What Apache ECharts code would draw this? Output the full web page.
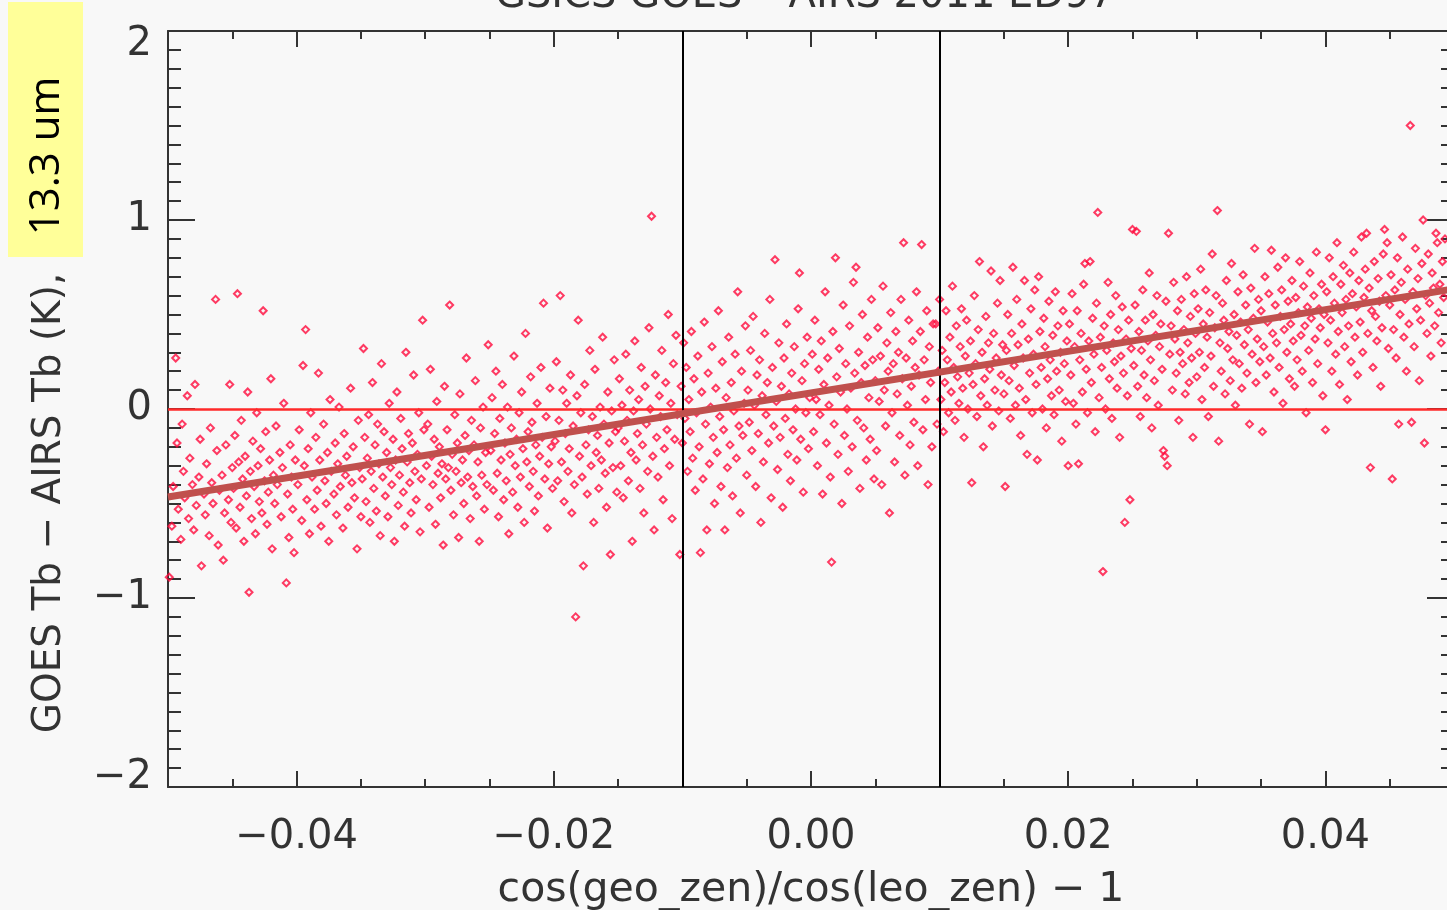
<!DOCTYPE html>
<html>
<head>
<meta charset="utf-8">
<script src="https://cdn.jsdelivr.net/npm/echarts@6/dist/echarts.min.js"></script>
<style>
html, body { margin: 0; padding: 0; background: #f8f8f8; }
#main { width: 1447px; height: 910px; }
</style>
</head>
<body>
<div id="main"></div>
<script>
// tick values
var xMajorTicks = [-0.04, -0.02, 0, 0.02, 0.04];

// scatter points, [cos ratio - 1, Tb diff]
var leftPts = [
[-0.0499,-0.89],[-0.0497,-0.62],[-0.0496,-0.41],[-0.0494,0.27],[-0.0493,-0.18],[-0.0492,-0.53],[-0.0490,-0.69],[-0.0489,-0.08],[-0.0488,-0.33],[-0.0487,-0.47],[-0.0485,0.07],[-0.0484,-0.58],[-0.0483,-0.26],[-0.0481,-0.40],[-0.0480,-0.64],[-0.0479,0.13],[-0.0478,-0.51],[-0.0476,-0.36],[-0.0475,-0.16],[-0.0474,-0.83],[-0.0472,-0.45],[-0.0471,-0.56],[-0.0470,-0.29],[-0.0468,-0.67],[-0.0467,-0.10],[-0.0466,-0.39],[-0.0465,-0.50],[-0.0463,0.58],[-0.0462,-0.22],[-0.0461,-0.72],[-0.0460,-0.43],[-0.0458,-0.35],[-0.0457,-0.80],[-0.0456,-0.55],[-0.0455,-0.19],[-0.0453,-0.48],[-0.0452,0.13],[-0.0451,-0.60],[-0.0450,-0.31],
[-0.0449,-0.42],[-0.0448,-0.14],[-0.0447,-0.63],[-0.0446,0.61],[-0.0445,-0.28],[-0.0444,-0.52],[-0.0443,-0.06],[-0.0442,-0.37],[-0.0441,-0.70],[-0.0440,-0.25],[-0.0439,-0.46],[-0.0438,0.09],[-0.0437,-0.97],[-0.0436,-0.33],[-0.0435,-0.58],[-0.0434,-0.17],[-0.0433,-0.41],[-0.0432,-0.66],[-0.0431,-0.02],[-0.0430,-0.30],[-0.0429,-0.49],[-0.0428,-0.21],[-0.0427,-0.55],[-0.0426,0.52],[-0.0425,-0.38],[-0.0424,-0.12],[-0.0423,-0.61],[-0.0422,-0.44],[-0.0421,-0.27],[-0.0420,0.16],[-0.0419,-0.74],[-0.0418,-0.35],[-0.0417,-0.50],[-0.0416,-0.09],[-0.0415,-0.40],[-0.0413,-0.23],[-0.0412,-0.57],[-0.0411,-0.31],[-0.0410,0.03],[-0.0408,-0.92],[-0.0407,-0.45],[-0.0406,-0.68],[-0.0405,-0.19],[-0.0404,-0.36],[-0.0403,-0.53],[-0.0402,-0.76],[-0.0401,-0.27],
[-0.0399,-0.40],[-0.0398,-0.11],[-0.0396,-0.59],[-0.0395,0.23],[-0.0394,-0.30],[-0.0393,0.42],[-0.0392,-0.48],[-0.0391,-0.21],[-0.0390,-0.66],[-0.0389,-0.02],[-0.0388,-0.36],[-0.0386,-0.53],[-0.0385,-0.15],[-0.0384,-0.43],[-0.0383,0.19],[-0.0382,-0.27],[-0.0381,-0.62],[-0.0379,-0.08],[-0.0378,-0.38],[-0.0377,-0.50],[-0.0376,-0.23],[-0.0375,-0.70],[-0.0374,0.05],[-0.0373,-0.33],[-0.0371,-0.45],[-0.0370,-0.18],[-0.0369,-0.56],[-0.0368,-0.29],[-0.0367,0.01],[-0.0366,-0.41],[-0.0364,-0.63],[-0.0363,-0.13],[-0.0362,-0.35],[-0.0361,-0.25],[-0.0360,-0.52],[-0.0358,0.11],[-0.0357,-0.39],[-0.0356,-0.20],[-0.0355,-0.47],[-0.0353,-0.74],[-0.0352,-0.06],[-0.0351,-0.31],[-0.0350,-0.57],
[-0.0349,-0.37],[-0.0348,0.32],[-0.0347,-0.15],[-0.0346,-0.49],[-0.0345,-0.26],[-0.0344,-0.03],[-0.0343,-0.60],[-0.0342,-0.33],[-0.0341,0.14],[-0.0340,-0.42],[-0.0339,-0.19],[-0.0338,-0.54],[-0.0337,-0.08],[-0.0336,-0.29],[-0.0335,-0.67],[-0.0334,0.24],[-0.0333,-0.36],[-0.0332,-0.12],[-0.0331,-0.46],[-0.0330,-0.23],[-0.0329,-0.57],[-0.0328,0.03],[-0.0327,-0.31],[-0.0326,-0.40],[-0.0325,-0.16],[-0.0324,-0.70],[-0.0323,-0.27],[-0.0322,0.09],[-0.0321,-0.51],[-0.0320,-0.35],[-0.0319,-0.05],[-0.0318,-0.21],[-0.0317,-0.44],[-0.0316,-0.62],[-0.0315,0.30],[-0.0314,-0.28],[-0.0313,-0.13],[-0.0312,-0.39],[-0.0311,-0.55],[-0.0310,-0.18],[-0.0309,0.18],[-0.0308,-0.33],[-0.0307,-0.48],[-0.0306,-0.24],[-0.0305,-0.02],[-0.0304,-0.65],[-0.0303,-0.37],[-0.0302,0.47],[-0.0301,-0.11],
[-0.0299,-0.30],[-0.0298,-0.08],[-0.0297,-0.52],[-0.0296,0.21],[-0.0295,-0.25],[-0.0294,-0.40],[-0.0293,-0.16],[-0.0292,-0.61],[-0.0291,0.04],[-0.0290,-0.34],[-0.0289,-0.20],[-0.0288,-0.47],[-0.0287,-0.29],[-0.0286,-0.72],[-0.0285,0.12],[-0.0284,-0.37],[-0.0283,-0.11],[-0.0282,-0.31],[-0.0281,0.55],[-0.0280,-0.43],[-0.0279,-0.24],[-0.0278,-0.56],[-0.0277,-0.03],[-0.0276,-0.33],[-0.0275,-0.18],[-0.0274,-0.68],[-0.0273,0.08],[-0.0272,-0.39],[-0.0271,-0.27],[-0.0270,-0.50],[-0.0269,-0.14],[-0.0268,0.27],[-0.0267,-0.36],[-0.0266,-0.22],[-0.0265,-0.58],[-0.0264,-0.06],[-0.0263,-0.41],[-0.0262,-0.19],[-0.0261,0.15],[-0.0260,-0.46],[-0.0259,-0.28],[-0.0258,-0.70],[-0.0257,-0.10],[-0.0256,-0.35],[-0.0255,0.01],[-0.0254,-0.53],[-0.0253,-0.23],[-0.0252,-0.40],[-0.0251,0.34],
[-0.0249,-0.22],[-0.0248,0.06],[-0.0247,-0.43],[-0.0246,-0.13],[-0.0245,0.20],[-0.0244,-0.34],[-0.0243,-0.57],[-0.0242,-0.05],[-0.0241,-0.27],[-0.0240,0.13],[-0.0239,-0.48],[-0.0238,-0.18],[-0.0237,-0.38],[-0.0236,0.01],[-0.0235,-0.66],[-0.0234,-0.24],[-0.0233,-0.10],[-0.0232,-0.44],[-0.0231,0.28],[-0.0230,-0.30],[-0.0229,-0.16],[-0.0228,-0.52],[-0.0227,-0.02],[-0.0226,-0.36],[-0.0225,0.09],[-0.0224,-0.21],[-0.0223,-0.60],[-0.0222,0.40],[-0.0221,-0.28],[-0.0220,-0.12],[-0.0219,-0.41],[-0.0218,0.17],[-0.0217,-0.07],[-0.0216,-0.33],[-0.0215,-0.54],[-0.0214,-0.19],[-0.0213,0.03],[-0.0212,-0.46],[-0.0211,-0.25],[-0.0210,0.22],[-0.0209,-0.15],[-0.0208,0.56],[-0.0207,-0.37],[-0.0206,-0.04],[-0.0205,-0.63],[-0.0204,-0.29],[-0.0203,0.11],[-0.0202,-0.20],[-0.0201,-0.42],
[-0.0199,-0.17],[-0.0198,0.25],[-0.0197,-0.38],[-0.0196,-0.06],[-0.0195,0.60],[-0.0194,-0.28],[-0.0193,0.10],[-0.0192,-0.49],[-0.0191,-0.13],[-0.0190,0.03],[-0.0189,-0.33],[-0.0188,-0.21],[-0.0187,0.18],[-0.0186,-0.55],[-0.0185,-0.09],[-0.0184,-0.40],[-0.0183,-1.10],[-0.0182,0.07],[-0.0181,0.47],[-0.0180,-0.25],[-0.0179,-0.02],[-0.0178,-0.36],[-0.0177,-0.83],[-0.0176,0.13],[-0.0175,-0.19],[-0.0174,-0.45],[-0.0173,-0.11],[-0.0172,0.31],[-0.0171,-0.30],[-0.0170,-0.04],[-0.0169,-0.60],[-0.0168,0.21],[-0.0167,-0.23],[-0.0166,-0.14],[-0.0165,-0.42],[-0.0164,0.01],[-0.0163,-0.27],[-0.0162,0.38],[-0.0161,-0.08],[-0.0160,-0.34],[-0.0159,-0.52],[-0.0158,0.09],[-0.0157,-0.18],[-0.0156,-0.77],[-0.0155,-0.01],[-0.0154,-0.31],[-0.0153,0.26],[-0.0152,-0.12],[-0.0151,-0.44],
[-0.0150,-0.10],[-0.0149,0.16],[-0.0148,-0.30],[-0.0147,0.02],[-0.0146,-0.47],[-0.0145,-0.17],[-0.0144,0.29],[-0.0143,-0.06],[-0.0142,-0.38],[-0.0141,0.10],[-0.0140,-0.23],[-0.0139,-0.70],[-0.0138,-0.01],[-0.0137,0.36],[-0.0136,-0.27],[-0.0135,-0.13],[-0.0134,0.05],[-0.0133,-0.42],[-0.0132,0.22],[-0.0131,-0.19],[-0.0130,-0.55],[-0.0129,0.12],[-0.0128,-0.08],[-0.0127,-0.33],[-0.0126,0.43],[-0.0125,0.00],[-0.0124,1.02],[-0.0123,-0.25],[-0.0122,-0.64],[-0.0121,0.18],[-0.0120,-0.15],[-0.0119,-0.36],[-0.0118,0.07],[-0.0117,-0.04],[-0.0116,0.31],[-0.0115,-0.48],[-0.0114,-0.21],[-0.0113,0.14],[-0.0112,-0.11],[-0.0111,0.50],[-0.0110,-0.30],[-0.0109,0.03],[-0.0108,-0.58],[-0.0107,0.24],[-0.0106,-0.16],[-0.0105,0.39],[-0.0104,-0.03]
];

var midPts = [
[-0.0102,-0.77],[-0.0101,0.12],[-0.0100,-0.18],[-0.0099,0.35],[-0.0098,-0.05],[-0.0097,0.22],[-0.0096,-0.33],[-0.0095,0.05],[-0.0094,-0.12],[-0.0093,0.41],[-0.0092,-0.26],[-0.0091,0.16],[-0.0090,-0.43],[-0.0089,-0.02],[-0.0088,0.28],[-0.0087,-0.20],[-0.0086,-0.76],[-0.0085,0.09],[-0.0084,-0.37],[-0.0083,0.46],[-0.0082,-0.08],[-0.0081,-0.64],[-0.0080,0.19],[-0.0079,-0.29],[-0.0078,0.01],[-0.0077,0.33],[-0.0076,-0.15],[-0.0075,-0.50],[-0.0074,0.11],[-0.0073,-0.23],[-0.0072,0.52],[-0.0071,-0.04],[-0.0070,-0.41],[-0.0069,0.25],[-0.0068,-0.11],[-0.0067,-0.64],[-0.0066,0.06],[-0.0065,-0.31],[-0.0064,0.38],[-0.0063,-0.19],[-0.0062,0.14],[-0.0061,-0.46],[-0.0060,-0.01],[-0.0059,0.29],[-0.0058,-0.26],[-0.0057,0.62],[-0.0056,-0.09],[-0.0055,-0.55],[-0.0054,0.20],[-0.0053,-0.14],[-0.0052,0.03],[-0.0051,0.44],
[-0.0050,-0.35],[-0.0049,0.10],[-0.0048,-0.07],[-0.0047,0.31],[-0.0046,-0.22],[-0.0045,0.49],[-0.0044,0.02],[-0.0043,-0.41],[-0.0042,0.18],[-0.0041,-0.13],[-0.0040,0.26],[-0.0039,-0.60],[-0.0038,0.07],[-0.0037,-0.28],[-0.0036,0.40],[-0.0035,-0.03],[-0.0034,0.14],[-0.0033,-0.18],[-0.0032,0.58],[-0.0031,-0.47],[-0.0030,0.22],[-0.0029,-0.09],[-0.0028,0.79],[-0.0027,0.04],[-0.0026,-0.32],[-0.0025,0.35],[-0.0024,-0.15],[-0.0023,0.12],[-0.0022,-0.52],[-0.0021,0.27],[-0.0020,-0.05],[-0.0019,0.45],[-0.0018,-0.24],[-0.0017,0.08],[-0.0016,-0.38],[-0.0015,0.19],[-0.0014,-0.11],[-0.0013,0.33],[-0.0012,0.00],[-0.0011,-0.27],[-0.0010,0.53],[-0.0009,0.72],[-0.0008,-0.16],[-0.0007,0.15],[-0.0006,-0.44],[-0.0005,0.24],[-0.0004,-0.02],[-0.0003,0.38],[-0.0002,-0.21],[-0.0001,0.06],
[0.0001,0.29],[0.0002,-0.12],[0.0003,0.47],[0.0004,0.05],[0.0005,-0.30],[0.0006,0.21],[0.0007,-0.03],[0.0008,0.36],[0.0009,-0.45],[0.0010,0.13],[0.0011,0.62],[0.0012,-0.18],[0.0013,0.27],[0.0014,0.02],[0.0015,-0.36],[0.0016,-0.81],[0.0017,0.41],[0.0018,-0.08],[0.0019,0.80],[0.0020,0.17],[0.0021,-0.24],[0.0022,0.32],[0.0023,0.09],[0.0024,-0.50],[0.0025,0.55],[0.0026,-0.14],[0.0027,0.24],[0.0028,0.00],[0.0029,-0.33],[0.0030,0.44],[0.0031,0.11],[0.0032,-0.20],[0.0033,0.67],[0.0034,0.19],[0.0035,0.75],[0.0036,-0.06],[0.0037,0.30],[0.0038,-0.42],[0.0039,0.14],[0.0040,0.50],[0.0041,-0.10],[0.0042,0.23],[0.0043,-0.27],[0.0044,0.38],[0.0045,0.06],[0.0046,-0.16],[0.0047,0.58],[0.0048,0.26],[0.0049,-0.37],
[0.0050,0.15],[0.0051,-0.22],[0.0052,0.43],[0.0053,0.04],[0.0054,0.28],[0.0055,-0.40],[0.0056,0.65],[0.0057,0.10],[0.0058,-0.09],[0.0059,0.35],[0.0060,0.20],[0.0061,-0.55],[0.0062,0.51],[0.0063,-0.02],[0.0064,0.24],[0.0065,-0.28],[0.0066,0.41],[0.0067,0.08],[0.0068,0.30],[0.0069,-0.14],[0.0070,0.58],[0.0071,0.16],[0.0072,0.88],[0.0073,-0.35],[0.0074,0.27],[0.0075,0.02],[0.0076,0.47],[0.0077,-0.19],[0.0078,0.12],[0.0079,0.36],[0.0080,-0.07],[0.0081,0.22],[0.0082,0.62],[0.0083,-0.30],[0.0084,0.18],[0.0085,0.41],[0.0086,0.87],[0.0087,-0.11],[0.0088,0.26],[0.0089,0.05],[0.0090,0.52],[0.0091,-0.40],[0.0092,0.33],[0.0093,0.14],[0.0094,-0.20],[0.0095,0.45]
];

var rightPts = [
[0.0097,0.45],[0.0098,-0.08],[0.0099,0.20],[0.0100,0.58],[0.0101,0.05],[0.0102,0.31],[0.0103,-0.12],[0.0104,0.14],[0.0105,0.52],[0.0106,0.26],[0.0107,-0.02],[0.0108,0.38],[0.0109,0.09],[0.0110,0.65],[0.0111,0.22],[0.0112,-0.06],[0.0113,0.44],[0.0114,0.17],[0.0115,0.03],[0.0116,0.33],[0.0117,0.53],[0.0118,0.11],[0.0119,-0.15],[0.0120,0.28],[0.0121,0.47],[0.0122,0.00],[0.0123,0.19],[0.0124,0.36],[0.0125,-0.39],[0.0126,0.13],[0.0127,0.60],[0.0128,0.24],[0.0129,-0.04],[0.0130,0.42],[0.0131,0.78],[0.0132,0.07],[0.0133,0.30],[0.0134,-0.20],[0.0135,0.16],[0.0136,0.49],[0.0137,0.02],[0.0138,0.35],[0.0139,0.21],[0.0140,0.73],[0.0141,-0.09],[0.0142,0.40],[0.0143,0.10],[0.0144,0.27],[0.0145,0.56],[0.0146,-0.01],[0.0147,0.68],[0.0148,0.18],[0.0149,0.34],
[0.0150,0.08],[0.0151,-0.41],[0.0152,0.31],[0.0153,0.50],[0.0154,0.15],[0.0155,-0.05],[0.0156,0.40],[0.0157,0.75],[0.0158,0.23],[0.0159,0.02],[0.0160,0.58],[0.0161,0.34],[0.0162,0.11],[0.0163,-0.14],[0.0164,0.45],[0.0165,0.27],[0.0166,0.68],[0.0167,0.05],[0.0168,-0.24],[0.0169,0.37],[0.0170,0.19],[0.0171,0.53],[0.0172,-0.02],[0.0173,0.29],[0.0174,0.63],[0.0175,0.13],[0.0176,-0.27],[0.0177,0.70],[0.0178,0.41],[0.0179,0.22],[0.0180,0.00],[0.0181,0.48],[0.0182,0.33],[0.0183,-0.10],[0.0184,0.16],[0.0185,0.57],[0.0186,0.26],[0.0187,0.07],[0.0188,0.39],[0.0189,-0.03],[0.0190,0.62],[0.0191,0.20],[0.0192,0.44],[0.0193,0.10],[0.0194,0.30],[0.0195,-0.17],[0.0196,0.52],[0.0197,0.24],[0.0198,0.04],[0.0199,0.36],
[0.0200,-0.30],[0.0201,0.45],[0.0202,0.18],[0.0203,0.61],[0.0204,0.03],[0.0205,0.33],[0.0206,-0.08],[0.0207,0.52],[0.0208,-0.29],[0.0209,0.26],[0.0210,0.40],[0.0211,0.09],[0.0212,0.66],[0.0213,0.77],[0.0214,0.21],[0.0215,-0.02],[0.0216,0.36],[0.0217,0.78],[0.0218,0.14],[0.0219,0.48],[0.0220,0.29],[0.0221,-0.12],[0.0222,0.56],[0.0223,1.04],[0.0224,0.06],[0.0225,0.38],[0.0226,0.22],[0.0227,-0.86],[0.0228,0.44],[0.0229,0.00],[0.0230,0.31],[0.0231,0.67],[0.0232,0.16],[0.0233,0.50],[0.0234,-0.05],[0.0235,0.35],[0.0236,0.25],[0.0237,0.60],[0.0238,0.11],[0.0239,0.42],[0.0240,-0.15],[0.0241,0.28],[0.0242,0.54],[0.0243,0.19],[0.0244,-0.60],[0.0245,0.37],[0.0246,0.07],[0.0247,0.47],[0.0248,-0.48],[0.0249,0.32],
[0.0250,0.95],[0.0251,0.23],[0.0252,0.55],[0.0253,0.94],[0.0254,0.12],[0.0255,0.41],[0.0256,-0.04],[0.0257,0.31],[0.0258,0.63],[0.0259,0.18],[0.0260,0.47],[0.0261,0.06],[0.0262,0.36],[0.0263,0.72],[0.0264,0.26],[0.0265,-0.10],[0.0266,0.50],[0.0267,0.15],[0.0268,0.39],[0.0269,0.60],[0.0270,0.02],[0.0271,0.33],[0.0272,0.45],[0.0273,0.21],[0.0274,-0.22],[0.0275,-0.25],[0.0276,0.57],[0.0277,-0.30],[0.0278,0.93],[0.0279,0.29],[0.0280,0.44],[0.0281,0.10],[0.0282,0.67],[0.0283,0.37],[0.0284,0.19],[0.0285,0.52],[0.0286,-0.06],[0.0287,0.30],[0.0288,0.58],[0.0289,0.24],[0.0290,0.42],[0.0291,0.08],[0.0292,0.70],[0.0293,0.35],[0.0294,0.14],[0.0295,0.49],[0.0296,0.27],[0.0297,-0.15],[0.0298,0.61],[0.0299,0.40],
[0.0300,0.17],[0.0301,0.53],[0.0302,0.30],[0.0303,0.74],[0.0304,0.05],[0.0305,0.45],[0.0306,0.22],[0.0307,0.63],[0.0308,0.38],[0.0309,-0.04],[0.0310,0.51],[0.0311,0.28],[0.0312,0.82],[0.0313,0.12],[0.0314,0.43],[0.0315,0.60],[0.0316,1.05],[0.0317,-0.17],[0.0318,0.35],[0.0319,0.20],[0.0320,0.56],[0.0321,0.47],[0.0322,0.08],[0.0323,0.68],[0.0324,0.32],[0.0325,0.41],[0.0326,0.15],[0.0327,0.77],[0.0328,0.26],[0.0329,0.50],[0.0330,0.02],[0.0331,0.39],[0.0332,0.62],[0.0333,0.24],[0.0334,0.46],[0.0335,0.11],[0.0336,0.71],[0.0337,0.34],[0.0338,0.55],[0.0339,0.19],[0.0340,0.42],[0.0341,-0.08],[0.0342,0.64],[0.0343,0.29],[0.0344,0.48],[0.0345,0.85],[0.0346,0.14],[0.0347,0.37],[0.0348,0.58],[0.0349,0.25],
[0.0350,0.52],[0.0351,-0.12],[0.0352,0.33],[0.0353,0.70],[0.0354,0.18],[0.0355,0.46],[0.0356,0.61],[0.0357,0.27],[0.0358,0.84],[0.0359,0.40],[0.0360,0.09],[0.0361,0.55],[0.0362,0.35],[0.0363,0.75],[0.0364,0.22],[0.0365,0.49],[0.0366,0.63],[0.0367,0.03],[0.0368,0.42],[0.0369,0.80],[0.0370,0.30],[0.0371,0.57],[0.0372,0.16],[0.0373,0.45],[0.0374,0.68],[0.0375,0.36],[0.0376,0.12],[0.0377,0.59],[0.0378,0.26],[0.0379,0.51],[0.0380,0.78],[0.0381,0.39],[0.0382,0.20],[0.0383,0.65],[0.0384,0.44],[0.0385,-0.02],[0.0386,0.54],[0.0387,0.31],[0.0388,0.72],[0.0389,0.48],[0.0390,0.14],[0.0391,0.60],[0.0392,0.37],[0.0393,0.83],[0.0394,0.24],[0.0395,0.53],[0.0396,0.43],[0.0397,0.66],[0.0398,0.07],[0.0399,0.50],
[0.0400,-0.11],[0.0401,0.62],[0.0402,0.35],[0.0403,0.80],[0.0404,0.47],[0.0405,0.20],[0.0406,0.70],[0.0407,0.56],[0.0408,0.29],[0.0409,0.88],[0.0410,0.41],[0.0411,0.13],[0.0412,0.66],[0.0413,0.51],[0.0414,0.76],[0.0415,0.33],[0.0416,0.58],[0.0417,0.05],[0.0418,0.44],[0.0419,0.72],[0.0420,0.25],[0.0421,0.61],[0.0422,0.83],[0.0423,0.38],[0.0424,0.54],[0.0425,0.18],[0.0426,0.68],[0.0427,0.46],[0.0428,0.91],[0.0429,0.30],[0.0430,0.59],[0.0431,0.74],[0.0432,0.93],[0.0433,0.40],[0.0434,0.64],[0.0435,-0.31],[0.0436,0.52],[0.0437,0.22],[0.0438,0.78],[0.0439,0.49],[0.0440,0.36],[0.0441,0.69],[0.0442,0.57],[0.0443,0.12],[0.0444,0.43],[0.0445,0.82],[0.0446,0.95],[0.0447,0.60],[0.0448,0.88],[0.0449,0.32],
[0.0450,0.55],[0.0451,0.71],[0.0452,-0.37],[0.0453,0.42],[0.0454,0.63],[0.0455,0.27],[0.0456,0.80],[0.0457,-0.08],[0.0458,0.50],[0.0459,0.67],[0.0460,0.91],[0.0461,0.38],[0.0462,0.58],[0.0463,0.20],[0.0464,0.74],[0.0465,0.45],[0.0466,1.50],[0.0467,-0.07],[0.0468,0.62],[0.0469,0.33],[0.0470,0.85],[0.0471,0.53],[0.0472,0.69],[0.0473,0.15],[0.0474,0.47],[0.0475,0.77],[0.0476,1.00],[0.0477,-0.18],[0.0478,0.60],[0.0479,0.40],[0.0480,0.82],[0.0481,0.56],[0.0482,0.28],[0.0483,0.72],[0.0484,0.64],[0.0485,0.44],[0.0486,0.93],[0.0487,0.88],[0.0488,0.51],[0.0489,0.66],[0.0490,0.35],[0.0491,0.78],[0.0492,0.59],[0.0493,0.90]
];

// linear fit end points and the two view-angle limits
var fitX = [-0.05, 0.05];
var fitY = [-0.466, 0.636];
var limitX = [-0.0103, 0.0096];

var AXIS_COLOR = '#333';
var LABEL_FONT = 'DejaVu Sans';

function minusSign(s) {
    return String(s).replace('-', '\u2212');
}

var myChart = echarts.init(document.getElementById('main'));

// plot box: the right frame sits just past the canvas edge, as in the source picture
var gridBox = { left: 168, right: -7, top: 31, bottom: 123, outerBoundsMode: 'none' };

function makeX(idx, pos, major) {
    var ax = {
        gridIndex: idx,
        type: 'value',
        position: pos,
        min: -0.05,
        max: 0.05,
        splitLine: { show: false },
        axisLine: { show: major, onZero: false, lineStyle: { color: AXIS_COLOR, width: 2 } },
        axisTick: { inside: true, length: major ? 16 : 8, lineStyle: { color: AXIS_COLOR, width: 2 } },
        axisLabel: { show: false }
    };
    if (major) {
        ax.axisTick.customValues = xMajorTicks;
    } else {
        ax.interval = 0.005;
    }
    return ax;
}

function makeY(idx, pos, major) {
    return {
        gridIndex: idx,
        type: 'value',
        position: pos,
        min: -2,
        max: 2,
        interval: major ? 1 : 0.1,
        splitLine: { show: false },
        axisLine: { show: major, onZero: false, lineStyle: { color: AXIS_COLOR, width: 2 } },
        axisTick: { inside: true, length: major ? 27 : 13, lineStyle: { color: AXIS_COLOR, width: 2 } },
        axisLabel: { show: false }
    };
}

var xAxes = [makeX(0, 'bottom', true), makeX(1, 'bottom', false), makeX(2, 'top', true), makeX(3, 'top', false)];
var yAxes = [makeY(0, 'left', true), makeY(1, 'left', false), makeY(2, 'right', true), makeY(3, 'right', false)];

// labels on the main bottom / left axes
xAxes[0].axisLabel = {
    show: true,
    customValues: xMajorTicks,
    margin: 31,
    fontSize: 40,
    fontFamily: LABEL_FONT,
    color: AXIS_COLOR,
    formatter: function (v) { return minusSign(v.toFixed(2)); }
};
xAxes[0].name = 'cos(geo_zen)/cos(leo_zen) \u2212 1';
xAxes[0].nameLocation = 'middle';
xAxes[0].nameGap = 83;
xAxes[0].nameTextStyle = { fontSize: 41, fontFamily: LABEL_FONT, color: AXIS_COLOR };

// end labels sit a little inside the frame, like the IDL original
var labelRich = {
    hi: { fontSize: 40, fontFamily: LABEL_FONT, color: AXIS_COLOR, padding: [28, 0, 0, 0] },
    lo: { fontSize: 40, fontFamily: LABEL_FONT, color: AXIS_COLOR, padding: [0, 0, 18, 0] }
};
yAxes[0].axisLabel = {
    show: true,
    margin: 16,
    fontSize: 40,
    fontFamily: LABEL_FONT,
    color: AXIS_COLOR,
    rich: labelRich,
    formatter: function (v) {
        if (v === 2) return '{hi|' + minusSign(v) + '}';
        if (v === -2) return '{lo|' + minusSign(v) + '}';
        return minusSign(v);
    }
};

var option = {
    backgroundColor: '#f8f8f8',
    animation: false,
    grid: [
        echarts.util.clone(gridBox),
        echarts.util.clone(gridBox),
        echarts.util.clone(gridBox),
        echarts.util.clone(gridBox)
    ],
    xAxis: xAxes,
    yAxis: yAxes,
    graphic: [
        {
            type: 'text',
            x: 805,
            y: 17,
            style: {
                text: 'GSICS GOES\u2212 AIRS 2011 ED97',
                fontSize: 40,
                fontFamily: LABEL_FONT,
                fill: AXIS_COLOR,
                align: 'center', textAlign: 'center',
                verticalAlign: 'bottom', textVerticalAlign: 'bottom'
            }
        },
        {
            type: 'text',
            x: 50,
            y: 503,
            rotation: Math.PI / 2,
            style: {
                text: 'GOES Tb \u2212 AIRS Tb (K),',
                fontSize: 39,
                fontFamily: LABEL_FONT,
                fill: AXIS_COLOR,
                align: 'center', textAlign: 'center',
                verticalAlign: 'middle', textVerticalAlign: 'middle'
            }
        },
        {
            type: 'rect',
            shape: { x: 8, y: 2, width: 75, height: 255 },
            style: { fill: '#ffff99' }
        },
        {
            type: 'text',
            x: 47,
            y: 156,
            rotation: Math.PI / 2,
            style: {
                text: '13.3 um',
                fontSize: 42,
                fontFamily: 'Open Sans',
                fill: '#000',
                align: 'center', textAlign: 'center',
                verticalAlign: 'middle', textVerticalAlign: 'middle'
            }
        }
    ],
    series: [
        {
            name: 'points',
            type: 'scatter',
            xAxisIndex: 0,
            yAxisIndex: 0,
            symbol: 'diamond',
            symbolSize: 7,
            itemStyle: { color: 'rgba(0,0,0,0)', borderColor: '#ff0a3c', borderWidth: 2 },
            data: leftPts.concat(midPts, rightPts),
            markLine: {
                silent: true,
                symbol: 'none',
                label: { show: false },
                data: [
                    { yAxis: 0, lineStyle: { color: '#ff2a2a', width: 2.5, type: 'solid' } },
                    { xAxis: limitX[0], lineStyle: { color: '#000', width: 2, type: 'solid' } },
                    { xAxis: limitX[1], lineStyle: { color: '#000', width: 2, type: 'solid' } }
                ]
            },
            z: 2
        },
        {
            name: 'fit',
            type: 'line',
            xAxisIndex: 0,
            yAxisIndex: 0,
            showSymbol: false,
            lineStyle: { color: '#c0504d', width: 7 },
            data: fitX.map(function (x, i) { return [x, fitY[i]]; }),
            z: 5
        }
    ]
};

myChart.setOption(option);
</script>
</body>
</html>
